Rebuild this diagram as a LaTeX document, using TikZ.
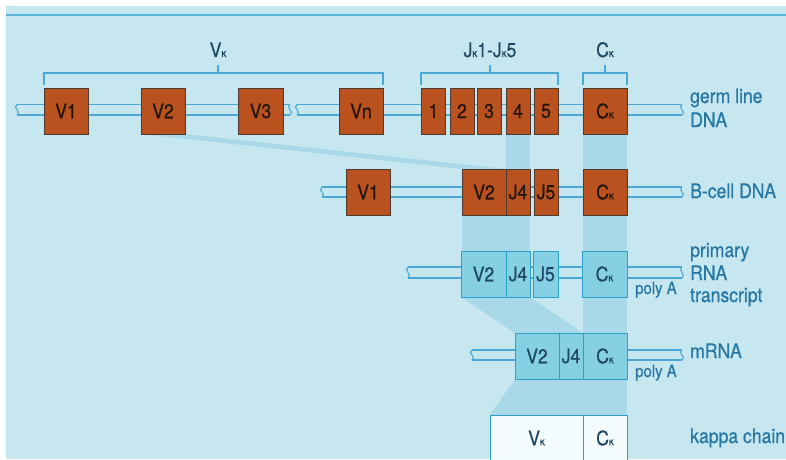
\documentclass[tikz,border=0pt]{standalone}
\usepackage{fontspec}
\setmainfont[FakeStretch=0.88,FakeBold=0.6]{TeX Gyre Heros}
\definecolor{bgc}{HTML}{C6E7F0}
\definecolor{bandc}{HTML}{A9D9E8}
\definecolor{topc}{HTML}{5DB6DA}
\definecolor{strandc}{HTML}{4AA8D6}
\definecolor{brfill}{HTML}{B9521E}
\definecolor{brdr}{HTML}{4E3A30}
\definecolor{brtext}{HTML}{24150C}
\definecolor{blufill}{HTML}{86D0E4}
\definecolor{bluedge}{HTML}{2A9FC8}
\definecolor{blutext}{HTML}{1E4862}
\definecolor{whfill}{HTML}{F4FBFC}
\definecolor{lblc}{HTML}{2677A3}
\newcommand{\kap}{{\fontsize{11}{11}\selectfont κ}}
\newcommand{\mybrk}[3]{\draw[strand] (#1,#2) .. controls (#1-5,#2+3) and (#1+5,#3-3) .. (#1,#3);}
\begin{document}
\begin{tikzpicture}[x=1pt,y=-1pt,
  boxbase/.style={line width=1pt, inner sep=0pt, minimum height=46pt, font=\fontsize{20}{22}\selectfont},
  brn/.style={boxbase, draw=brdr, fill=brfill, text=brtext},
  blu/.style={boxbase, draw=bluedge, fill=blufill, text=blutext},
  wht/.style={boxbase, draw=bluedge, fill=whfill, text=blutext},
  strand/.style={draw=strandc, line width=1.1pt},
  brack/.style={draw=strandc, line width=1.3pt},
  band/.style={fill=bandc, draw=none},
  lbl/.style={text=lblc, font=\fontsize{20}{22}\selectfont, inner sep=0pt, anchor=base west},
  small/.style={text=lblc, font=\fontsize{17}{19}\selectfont, inner sep=0pt, anchor=base west},
  top/.style={text=blutext, font=\fontsize{20}{22}\selectfont, inner sep=0pt, anchor=base}]
\useasboundingbox (0,0) rectangle (786,459);
\clip (0,0) rectangle (786,459);
\fill[white] (0,0) rectangle (786,459);
\fill[bgc] (6,6) rectangle (786,459);
\draw[draw=topc, line width=1.2pt] (6,15) -- (786,15);

% shaded bands
\fill[band] (506,134) rectangle (530,169);
\fill[band] (583,134) rectangle (627,415);
\fill[band] (141,134) -- (185,134) -- (506,169) -- (462,169) -- cycle;
\fill[band] (462,215) rectangle (530,251);
\fill[band] (461,297) -- (530,297) -- (583,333) -- (515,333) -- cycle;
\fill[band] (515,379) -- (583,379) -- (583,415) -- (490,415) -- cycle;

% strands
\draw[strand] (17,104.5) -- (290,104.5) (17,115) -- (290,115);
\draw[strand] (297,104.5) -- (682,104.5) (297,115) -- (682,115);
\mybrk{17}{104.5}{115} \mybrk{290}{104.5}{115} \mybrk{297}{104.5}{115} \mybrk{682}{104.5}{115}
\draw[strand] (322,187) -- (682,187) (322,197) -- (682,197);
\mybrk{322}{187}{197} \mybrk{682}{187}{197}
\draw[strand] (408,267) -- (682,267) (408,278) -- (682,278);
\mybrk{408}{267}{278} \mybrk{682}{267}{278}
\draw[strand] (472,350) -- (682,350) (472,360) -- (682,360);
\mybrk{472}{350}{360} \mybrk{682}{350}{360}

% brackets
\draw[brack] (44,85) -- (44,73) -- (383,73) -- (383,85) (218,73) -- (218,65);
\draw[brack] (421,85) -- (421,73) -- (558,73) -- (558,85) (490,73) -- (490,65);
\draw[brack] (583,85) -- (583,73) -- (627,73) -- (627,85) (605,73) -- (605,65);
\node[top] (lV) at (218,57) {V\kap};
\node[top] (lJ) at (490,57) {J\kap1-J\kap5};
\node[top] (lC) at (605,57) {C\kap};

% row 1: germ line DNA
\node[brn, minimum width=44pt] (gV1) at (66,111) {V1};
\node[brn, minimum width=44pt] (gV2) at (163,111) {V2};
\node[brn, minimum width=45pt] (gV3) at (260.5,111) {V3};
\node[brn, minimum width=44pt] (gVn) at (361,111) {Vn};
\node[brn, minimum width=24pt] (gJ1) at (433.5,111) {1};
\node[brn, minimum width=24pt] (gJ2) at (462,111) {2};
\node[brn, minimum width=24pt] (gJ3) at (489,111) {3};
\node[brn, minimum width=24pt] (gJ4) at (518,111) {4};
\node[brn, minimum width=24pt] (gJ5) at (546,111) {5};
\node[brn, minimum width=44pt] (gC) at (605,111) {C\kap};

% row 2: B-cell DNA
\node[brn, minimum width=44pt] (bV1) at (368,192) {V1};
\node[brn, minimum width=44pt] (bV2) at (484,192) {V2};
\node[brn, minimum width=24pt] (bJ4) at (518,192) {J4};
\node[brn, minimum width=24pt] (bJ5) at (546,192) {J5};
\node[brn, minimum width=44pt] (bC) at (605,192) {C\kap};

% row 3: primary RNA transcript
\node[blu, minimum width=45pt] (rV2) at (483.5,274) {V2};
\node[blu, minimum width=24pt] (rJ4) at (518,274) {J4};
\node[blu, minimum width=25pt] (rJ5) at (545.5,274) {J5};
\node[blu, minimum width=45pt] (rC) at (604.5,274) {C\kap};

% row 4: mRNA
\node[blu, minimum width=44pt] (mV2) at (537,356) {V2};
\node[blu, minimum width=24pt] (mJ4) at (571,356) {J4};
\node[blu, minimum width=44pt] (mC) at (605,356) {C\kap};

% row 5: kappa chain
\node[wht, minimum width=93pt] (kV) at (536.5,438) {V\kap};
\node[wht, minimum width=44pt] (kC) at (605,438) {C\kap};

% labels
\node[lbl] (t1a) at (690,103) {germ line};
\node[lbl] (t1b) at (690,127) {DNA};
\node[lbl] (t2) at (690,198) {B-cell DNA};
\node[lbl] (t3a) at (690,257) {primary};
\node[lbl] (t3b) at (690,280) {RNA};
\node[lbl] (t3c) at (690,302) {transcript};
\node[lbl] (t4) at (690,358) {mRNA};
\node[lbl] (t5) at (690,443) {kappa chain};
\node[small] (p1) at (635,294) {poly A};
\node[small] (p2) at (635,377) {poly A};
\end{tikzpicture}
\end{document}
